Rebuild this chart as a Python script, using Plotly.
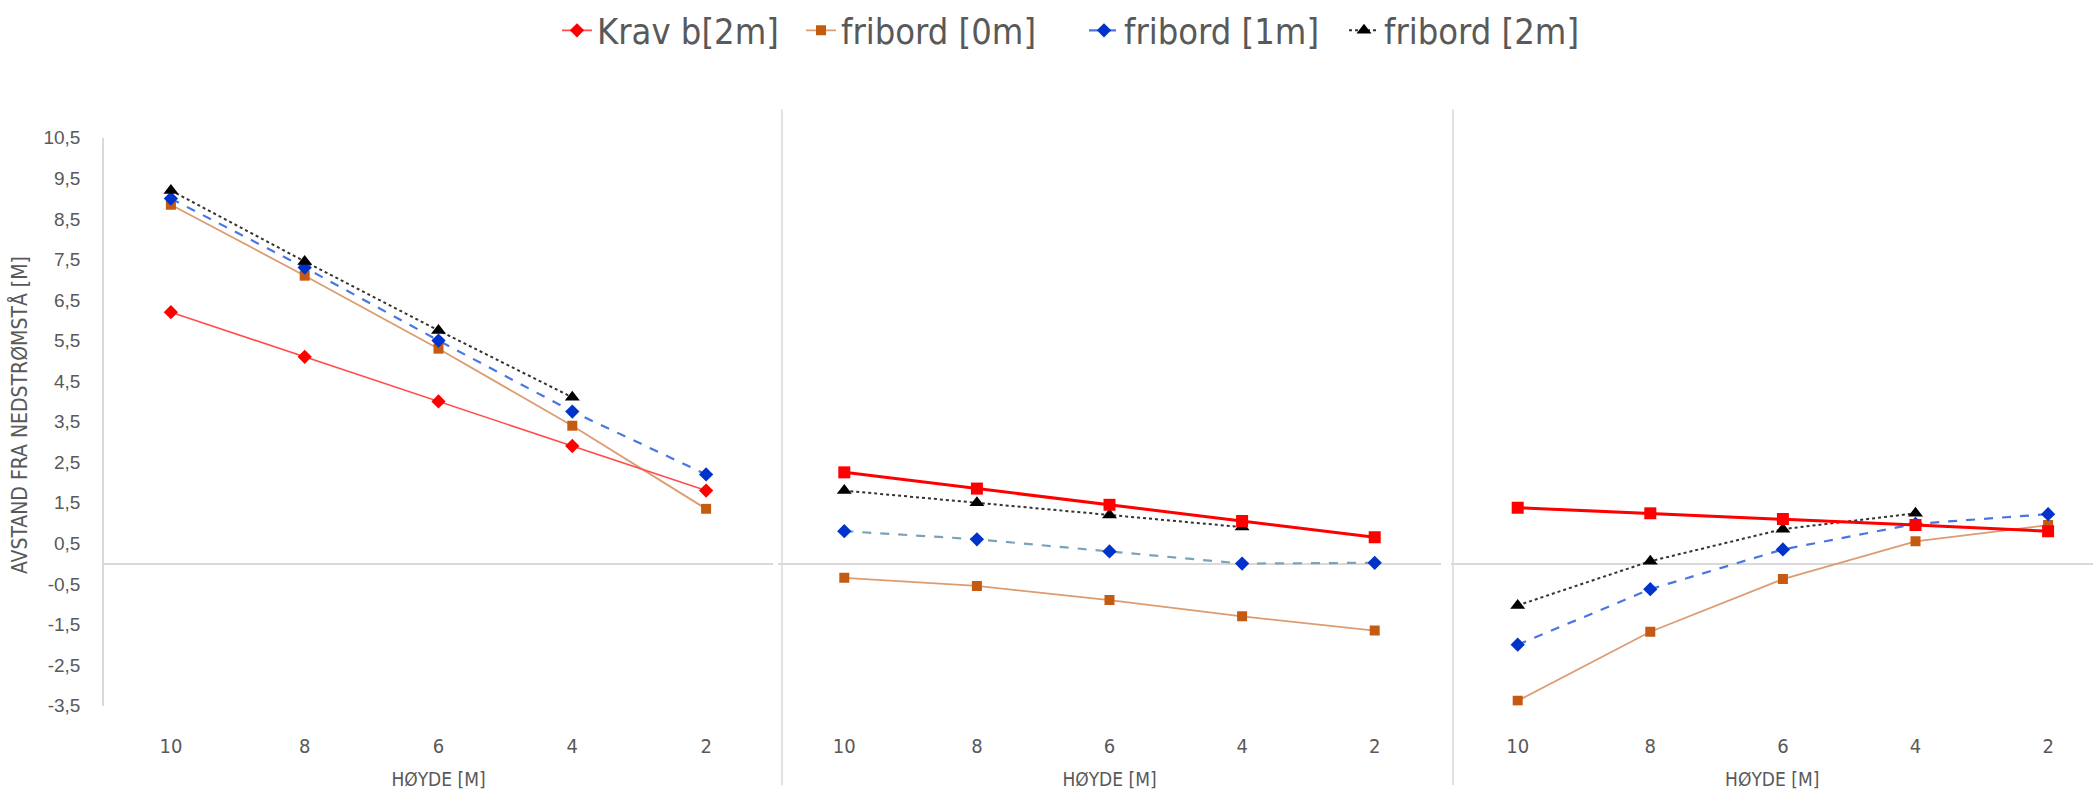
import plotly.graph_objects as go

# ---- data -------------------------------------------------------------
hoyde = ["10", "8", "6", "4", "2"]

series_names = ["Krav b[2m]", "fribord [0m]", "fribord [1m]", "fribord [2m]"]

# panel 1
p1_krav = [6.2, 5.1, 4.0, 2.9, 1.8]
p1_f0 = [8.85, 7.1, 5.3, 3.4, 1.35]
p1_f1 = [9.0, 7.3, 5.5, 3.75, 2.2]
p1_f2 = [9.2, 7.45, 5.75, 4.1, None]

# panel 2
p2_krav = [2.25, 1.85, 1.45, 1.05, 0.65]
p2_f0 = [-0.35, -0.55, -0.9, -1.3, -1.65]
p2_f1 = [0.8, 0.6, 0.3, 0.0, 0.02]
p2_f2 = [1.8, 1.5, 1.2, 0.9, None]

# panel 3
p3_krav = [1.38, 1.24, 1.1, 0.95, 0.8]
p3_f0 = [-3.38, -1.68, -0.38, 0.55, 0.95]
p3_f1 = [-2.0, -0.63, 0.35, 0.98, 1.22]
p3_f2 = [-1.03, 0.06, 0.85, 1.24, None]

y_ticks = [-3.5, -2.5, -1.5, -0.5, 0.5, 1.5, 2.5, 3.5, 4.5, 5.5, 6.5, 7.5, 8.5, 9.5, 10.5]
y_ticktext = [f"{v:.1f}".replace(".", ",") for v in y_ticks]

# ---- page geometry (pixels) --------------------------------------------
W, H = 2093, 803


def px_x(v):
    return v / W


def px_y(v):
    return 1 - v / H


GREY_TXT = "#595959"
AXIS_GREY = "#d9d9d9"
NARROW = "Liberation Sans Narrow, Arial Narrow, DejaVu Sans Condensed, sans-serif"
SANS = "Liberation Sans, Arial, sans-serif"

RED = "#ff0000"
ORANGE = "#c55a11"
ORANGE_LINE = "#dd9c70"
BLUE = "#0033cc"
BLUE_LINE = "#4a76e2"
BLUE_GREY_LINE = "#7aa2bb"
BLACK = "#000000"

LEGEND_IDS = ["legend", "legend2", "legend3", "legend4"]
# left edge of each legend entry's text, in page pixels
LEGEND_TEXT_X = [597, 841, 1124, 1384]

fig = go.Figure()


def add_panel(idx, krav, f0, f1, f2, krav_style, blue_line, legend):
    xa = "x" if idx == 1 else f"x{idx}"
    ya = "y" if idx == 1 else f"y{idx}"
    if krav_style == "thin":
        kline = dict(color="#ff4d4d", width=1.6)
        kmark = dict(symbol="diamond", size=11, color=RED)
    else:
        kline = dict(color=RED, width=3)
        kmark = dict(symbol="square", size=12, color=RED)
    fig.add_trace(go.Scatter(
        x=hoyde, y=f0, name=series_names[1], mode="lines+markers",
        line=dict(color=ORANGE_LINE, width=1.8),
        marker=dict(symbol="square", size=10, color=ORANGE),
        xaxis=xa, yaxis=ya, showlegend=legend, legend=LEGEND_IDS[1]))
    fig.add_trace(go.Scatter(
        x=hoyde, y=f1, name=series_names[2], mode="lines+markers",
        line=dict(color=blue_line, width=2.2, dash="dash"),
        marker=dict(symbol="diamond", size=11, color=BLUE),
        xaxis=xa, yaxis=ya, showlegend=legend, legend=LEGEND_IDS[2]))
    fig.add_trace(go.Scatter(
        x=hoyde, y=f2, name=series_names[3], mode="lines+markers",
        line=dict(color="#333333", width=2, dash="dot"),
        marker=dict(symbol="triangle-up", size=13, color=BLACK),
        xaxis=xa, yaxis=ya, showlegend=legend, legend=LEGEND_IDS[3]))
    fig.add_trace(go.Scatter(
        x=hoyde, y=krav, name=series_names[0], mode="lines+markers",
        line=kline, marker=kmark,
        xaxis=xa, yaxis=ya, showlegend=legend, legend=LEGEND_IDS[0]))


add_panel(1, p1_krav, p1_f0, p1_f1, p1_f2, "thin", BLUE_LINE, True)
add_panel(2, p2_krav, p2_f0, p2_f1, p2_f2, "thick", BLUE_GREY_LINE, False)
add_panel(3, p3_krav, p3_f0, p3_f1, p3_f2, "thick", BLUE_LINE, False)

y_dom = [px_y(714), px_y(129.5)]
x_doms = {1: [px_x(104), px_x(773)], 2: [px_x(778), px_x(1441)], 3: [px_x(1451.4), 1.0]}
x_ranges = {1: [-0.5, 4.5], 2: [-0.5, 4.5], 3: [-0.5, -0.5 + (W - 1451.4) / 132.6]}

common_x = dict(
    type="category", showgrid=False, zeroline=False, showline=False, ticks="",
    tickfont=dict(family=NARROW, size=20, color=GREY_TXT), ticklabelstandoff=26,
    title=dict(text="HØYDE [M]", font=dict(family=NARROW, size=19, color=GREY_TXT), standoff=16),
)
common_y = dict(
    range=[-3.5, 10.5], showgrid=False, zeroline=True, zerolinecolor=AXIS_GREY,
    zerolinewidth=1.5, ticks="", tickvals=y_ticks, ticktext=y_ticktext,
)

layout = dict(
    width=W, height=H, margin=dict(l=0, r=0, t=0, b=0),
    paper_bgcolor="white", plot_bgcolor="white",
    showlegend=True,
)
for lid, tx in zip(LEGEND_IDS, LEGEND_TEXT_X):
    layout[lid] = dict(
        orientation="h", x=px_x(tx - 40), xanchor="left", y=px_y(19), yanchor="middle",
        font=dict(family=NARROW, size=36, color=GREY_TXT), itemwidth=30,
        borderwidth=0, bgcolor="rgba(0,0,0,0)",
    )
for i in (1, 2, 3):
    sx = "" if i == 1 else str(i)
    layout[f"xaxis{sx}"] = dict(common_x, domain=x_doms[i], range=x_ranges[i],
                                anchor=f"y{sx}")
    ycfg = dict(common_y, domain=y_dom, anchor=f"x{sx}")
    if i == 1:
        ycfg.update(showline=True, linecolor=AXIS_GREY, linewidth=1.5,
                    showticklabels=True, ticklabelstandoff=18,
                    tickfont=dict(family=SANS, size=19, color=GREY_TXT))
    else:
        ycfg.update(showline=False, showticklabels=False)
    layout[f"yaxis{sx}"] = ycfg

fig.update_layout(**layout)

# panel frames between the charts
for xpx in (782, 1453):
    fig.add_shape(type="line", xref="paper", yref="paper",
                  x0=px_x(xpx), x1=px_x(xpx), y0=px_y(100), y1=px_y(796),
                  line=dict(color=AXIS_GREY, width=1.5))

# value-axis title
fig.add_annotation(
    xref="paper", yref="paper", x=px_x(19), y=px_y(415),
    text="AVSTAND FRA NEDSTRØMSTÅ [M]", textangle=-90, showarrow=False,
    font=dict(family=NARROW, size=21, color=GREY_TXT),
    xanchor="center", yanchor="middle",
)

fig.write_html("out.html")
